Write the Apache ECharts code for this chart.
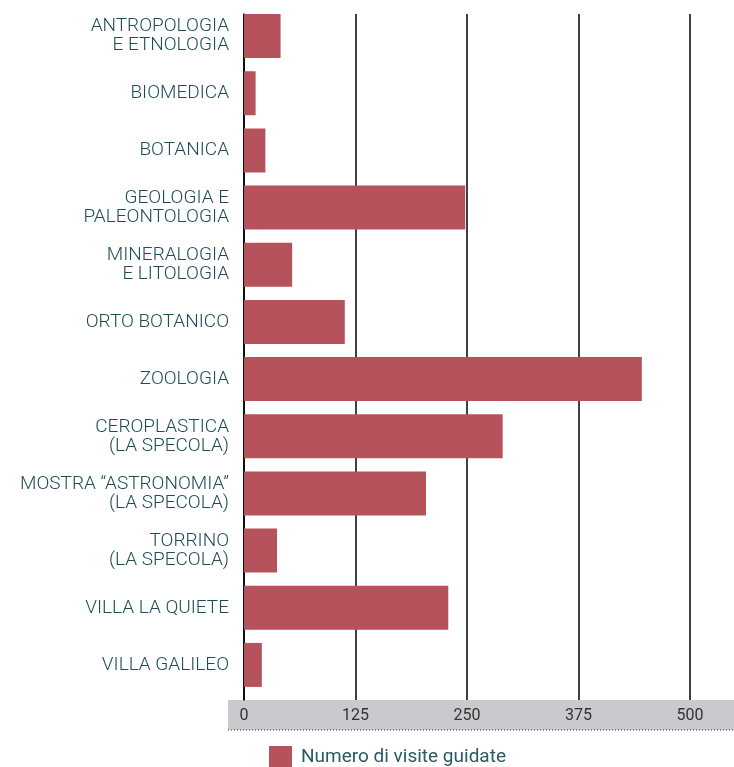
<!DOCTYPE html>
<html>
<head>
<meta charset="utf-8">
<script src="https://cdn.jsdelivr.net/npm/echarts@6/dist/echarts.min.js"></script>
<style>
html,body{margin:0;padding:0;background:#fff;}
#chart{width:734px;height:767px;}
</style>
</head>
<body>
<div id="chart"></div>
<script>
const categories = [
  "ANTROPOLOGIA\nE ETNOLOGIA",
  "BIOMEDICA",
  "BOTANICA",
  "GEOLOGIA E\nPALEONTOLOGIA",
  "MINERALOGIA\nE LITOLOGIA",
  "ORTO BOTANICO",
  "ZOOLOGIA",
  "CEROPLASTICA\n(LA SPECOLA)",
  "MOSTRA \u201CASTRONOMIA\u201D\n(LA SPECOLA)",
  "TORRINO\n(LA SPECOLA)",
  "VILLA LA QUIETE",
  "VILLA GALILEO"
];
const visite = [41, 13, 24, 248, 54, 113, 446, 290, 204, 37, 229, 20];
const seriesName = "Numero di visite guidate";
const xTicks = [0, 125, 250, 375, 500];

const chart = echarts.init(document.getElementById('chart'), null, {renderer: 'canvas'});
const font = 'Roboto, "Noto Sans", sans-serif';
const teal = '#1f4d56';
const xMin = xTicks[0], xMax = xTicks[xTicks.length - 1];

chart.setOption({
  animation: false,
  textStyle: {fontFamily: font},
  grid: [
    {left: 244, right: 44, top: 14, bottom: 67, containLabel: false},
    {left: 244, right: 44, top: 7.5, bottom: 73.5, containLabel: false}
  ],
  graphic: [
    {type: 'rect', z: -1, shape: {x: 228, y: 700, width: 506, height: 30}, style: {fill: '#c8cacd'}},
    {type: 'line', z: 0, shape: {x1: 228, y1: 730, x2: 734, y2: 730}, style: {stroke: '#333', lineWidth: 1, lineDash: [1, 2]}}
  ],
  xAxis: [{
    type: 'value', gridIndex: 0,
    min: xMin, max: xMax, interval: 125,
    axisLine: {show: false},
    axisTick: {show: false},
    splitLine: {show: true, lineStyle: {color: '#000', width: 1.5}},
    axisLabel: {color: '#333', fontSize: 16, margin: 8, fontFamily: font}
  }, {
    type: 'value', gridIndex: 1,
    min: xMin, max: xMax, interval: 125,
    show: false
  }],
  yAxis: [{
    type: 'category', gridIndex: 0,
    inverse: true,
    data: categories,
    axisLine: {show: true, lineStyle: {color: '#000', width: 1.5}},
    axisTick: {show: false},
    axisLabel: {show: false},
    splitLine: {show: false}
  }, {
    type: 'category', gridIndex: 1,
    inverse: true,
    data: categories,
    axisLine: {show: false},
    axisTick: {show: false},
    splitLine: {show: false},
    axisLabel: {color: teal, fontSize: 19, fontWeight: 300, lineHeight: 19, margin: 15, align: 'right', fontFamily: font}
  }],
  legend: {
    left: 269, top: 746, padding: 0,
    itemWidth: 23, itemHeight: 23, icon: 'rect',
    textStyle: {color: '#2b5a63', fontSize: 19, fontFamily: font, padding: [0, 0, 0, 4]},
    data: [seriesName]
  },
  series: [{
    name: seriesName,
    type: 'bar',
    xAxisIndex: 1, yAxisIndex: 1,
    data: visite,
    barWidth: 44,
    itemStyle: {color: '#b5525c'}
  }]
});
</script>
</body>
</html>
